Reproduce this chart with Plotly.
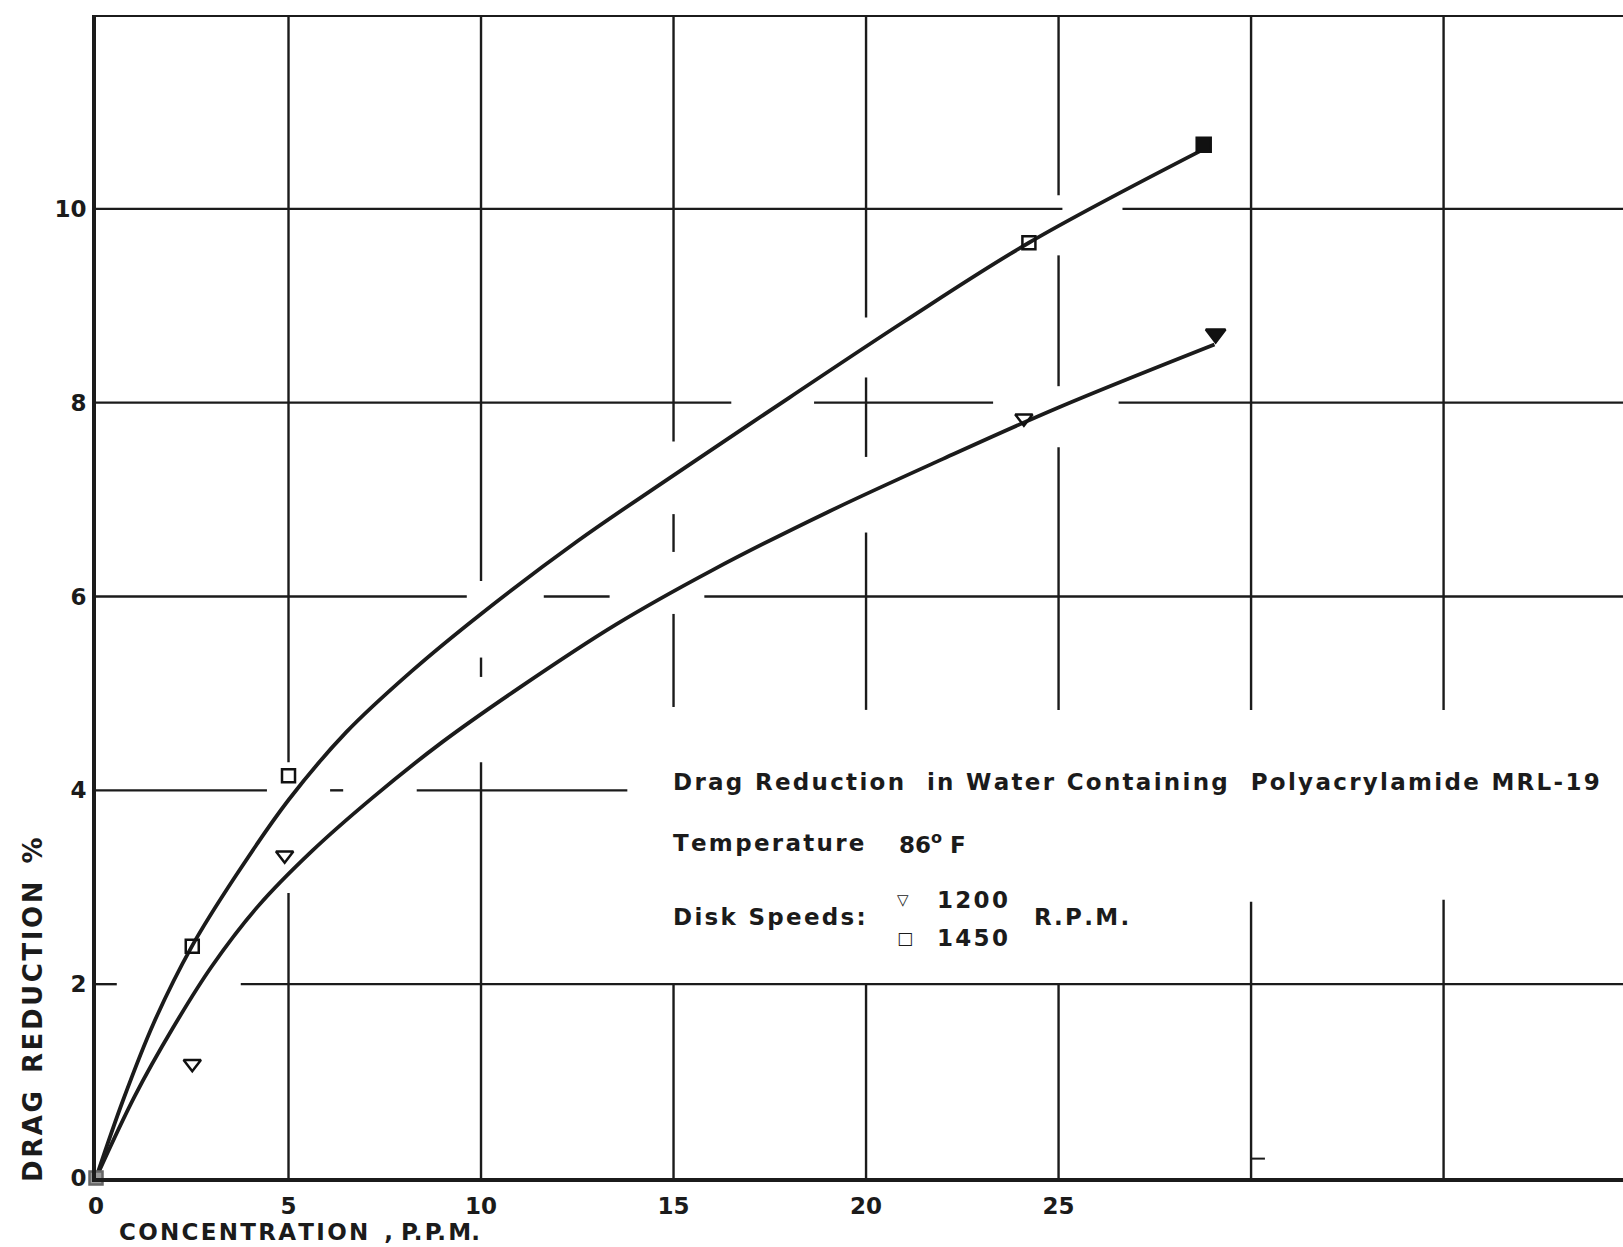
import plotly.graph_objects as go

# Measured drag reduction (%) against polymer concentration (p.p.m.)
conc_1200 = [0, 2.5, 4.9, 24.1, 29.08]
drag_1200 = [0, 1.18, 3.33, 7.84, 8.71]
conc_1450 = [0, 2.5, 5.0, 24.23, 28.77]
drag_1450 = [0, 2.39, 4.15, 9.65, 10.66]

# Hand-faired curves through each set of points
curve_1450_x = [0, 0.7, 1.5, 2.49, 3.6, 5.0, 6.5, 8.2, 10.0, 12.5, 15.0, 18.0, 21.0,
                24.23, 28.7]
curve_1450_y = [0, 0.8, 1.6, 2.39, 3.1, 3.9, 4.6, 5.23, 5.82, 6.57, 7.25, 8.05, 8.84,
                9.65, 10.6]
curve_1200_x = [0, 1.0, 2.0, 3.0, 4.2, 5.6, 7.2, 9.0, 11.0, 13.5, 16.0, 19.0, 22.0,
                25.0, 29.05]
curve_1200_y = [0, 0.84, 1.55, 2.18, 2.8, 3.37, 3.93, 4.5, 5.06, 5.71, 6.27, 6.87, 7.42,
                7.95, 8.6]

x_tick_vals = [0, 5, 10, 15, 20, 25]
x_tick_text = ["0", "5", "10", "15", "20", "25"]
y_tick_vals = [0, 2, 4, 6, 8, 10]
y_tick_text = ["0", "2", "4", "6", "8", "10"]

INK = "#1b1b1b"
SOLID = "#111111"
FONT = "DejaVu Sans"
X_MAX = 39.66
Y_MAX = 12

# Ruled grid, broken where curves, points and the caption cross it
h_rules = {
    2: [(0, 0.54), (3.76, X_MAX)],
    4: [(0, 4.44), (6.08, 6.42), (8.33, 13.8)],
    6: [(0, 9.63), (11.63, 13.34), (15.8, X_MAX)],
    8: [(0, 16.5), (18.65, 23.3), (26.56, X_MAX)],
    10: [(0, 25.1), (26.66, X_MAX)],
}
v_rules = {
    5: [(4.29, Y_MAX), (0, 2.94)],
    10: [(6.16, Y_MAX), (5.17, 5.37), (0, 4.29)],
    15: [(7.6, Y_MAX), (6.46, 6.85), (4.86, 5.82), (0, 2.0)],
    20: [(8.88, Y_MAX), (7.44, 8.26), (4.83, 6.66), (0, 2.0)],
    25: [(10.14, Y_MAX), (8.17, 9.52), (4.83, 7.54), (0, 2.0)],
    30: [(4.83, Y_MAX), (0, 2.85)],
    35: [(4.83, Y_MAX), (0, 2.87)],
}


def rule(x0, y0, x1, y1, width=2.4):
    return dict(type="line", xref="x", yref="y", x0=x0, y0=y0, x1=x1, y1=y1,
                line=dict(color=INK, width=width), layer="below")


shapes = []
for yv, segs in h_rules.items():
    for a, b in segs:
        shapes.append(rule(a, yv, b, yv))
for xv, segs in v_rules.items():
    for a, b in segs:
        shapes.append(rule(xv, a, xv, b))
# top frame line and a small stray tick on the 30 rule
shapes.append(rule(0, Y_MAX, X_MAX, Y_MAX, width=4))
shapes.append(rule(30, 0.2, 30.36, 0.2, width=2))


def spaced(s, sep="\u200a"):
    """Letter-space a caption the way the hand lettering is spread."""
    return sep.join(s)


fig = go.Figure()

for cx, cy in ((curve_1450_x, curve_1450_y), (curve_1200_x, curve_1200_y)):
    fig.add_trace(go.Scatter(x=cx, y=cy, mode="lines",
                             line=dict(color=INK, width=3.8, shape="spline", smoothing=1.0),
                             hoverinfo="skip", showlegend=False))

fig.add_trace(go.Scatter(
    x=conc_1200, y=drag_1200, mode="markers", name="1200 R.P.M.",
    marker=dict(symbol=["triangle-down", "triangle-down-open", "triangle-down-open",
                        "triangle-down-open", "triangle-down"],
                size=[9, 15, 15, 15, 17], opacity=1,
                color=["#8c8c8c", SOLID, SOLID, SOLID, SOLID],
                line=dict(width=2.5, color=SOLID)),
    cliponaxis=False, showlegend=False))
fig.add_trace(go.Scatter(
    x=conc_1450, y=drag_1450, mode="markers", name="1450 R.P.M.",
    marker=dict(symbol=["square", "square-open", "square-open", "square-open", "square"],
                size=[13, 13, 13, 13, 14], opacity=1,
                color=["#9a9a9a", SOLID, SOLID, SOLID, SOLID],
                line=dict(width=2.5, color=["#666666", SOLID, SOLID, SOLID, SOLID])),
    cliponaxis=False, showlegend=False))

txt = dict(family=FONT, size=23, color=INK, weight="bold")
annotations = [
    dict(x=14.94, y=4.09,
         text=spaced("Drag Reduction  in Water Containing  Polyacrylamide MRL-19"),
         font=txt),
    dict(x=14.94, y=3.46, text=spaced("Temperature"), font=txt),
    dict(x=20.8, y=3.46, text="86<sup>o</sup> F", font=txt),
    dict(x=14.94, y=2.69, text=spaced("Disk Speeds:"), font=txt),
    dict(x=20.75, y=2.87, text="\u25bd", font=dict(txt, size=15)),
    dict(x=21.78, y=2.87, text=spaced("1200"), font=txt),
    dict(x=20.75, y=2.48, text="\u25a1", font=dict(txt, size=17)),
    dict(x=21.78, y=2.48, text=spaced("1450"), font=txt),
    dict(x=24.31, y=2.69, text=spaced("R.P.M."), font=txt),
]
for a in annotations:
    a.update(xref="x", yref="y", xanchor="left", yanchor="middle", showarrow=False)

# axis titles
annotations.append(dict(
    xref="paper", yref="paper", x=(117 - 96) / 1527, y=(1178 - 1232) / 1163,
    xanchor="left", yanchor="middle", showarrow=False,
    text=spaced("CONCENTRATION") + "  , P.\u200aP.\u200aM.",
    font=dict(family=FONT, size=23, color=INK, weight="bold")))
annotations.append(dict(
    xref="paper", yref="paper", x=(33 - 96) / 1527, y=(1178 - 1010) / 1163,
    xanchor="center", yanchor="middle", showarrow=False, textangle=-90,
    text=spaced("DRAG") + "  " + spaced("REDUCTION") + "  %",
    font=dict(family=FONT, size=26, color=INK, weight="bold")))

fig.update_layout(
    width=1623, height=1247,
    margin=dict(l=96, r=0, t=15, b=69),
    paper_bgcolor="white", plot_bgcolor="white",
    shapes=shapes, annotations=annotations,
    xaxis=dict(range=[0, X_MAX], showgrid=False, zeroline=False, showline=True,
               linewidth=4, linecolor=INK, ticks="", tickvals=x_tick_vals,
               ticktext=x_tick_text, ticklabelstandoff=4,
               tickfont=dict(family=FONT, size=23, color=INK, weight="bold")),
    yaxis=dict(range=[0, Y_MAX], showgrid=False, zeroline=False, showline=True,
               linewidth=4, linecolor=INK, ticks="", tickvals=y_tick_vals,
               ticktext=y_tick_text, ticklabelstandoff=1,
               tickfont=dict(family=FONT, size=23, color=INK, weight="bold")),
)

fig.write_html("out.html")
